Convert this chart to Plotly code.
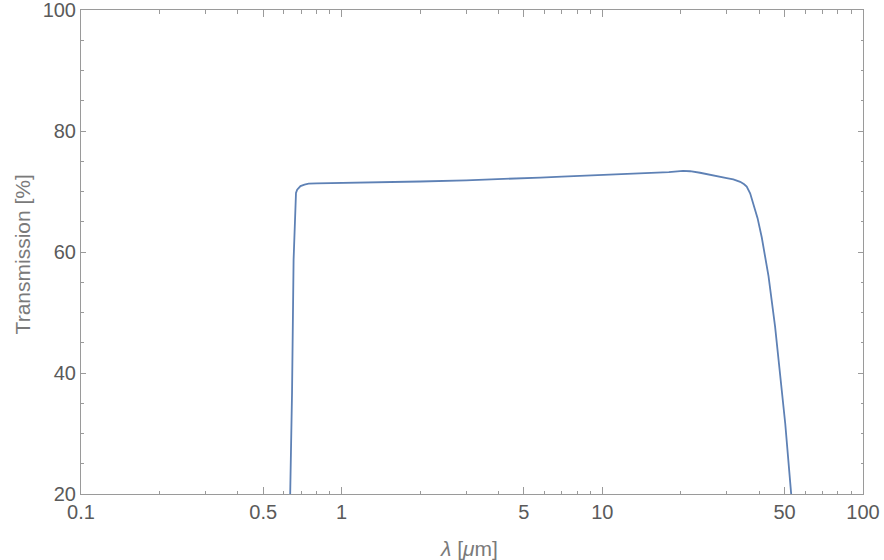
import plotly.graph_objects as go

wavelength_um = [0.634, 0.645, 0.654, 0.662, 0.668, 0.675, 0.685, 0.695, 0.72, 0.747, 0.8, 1.0, 1.288, 1.68,
                 2, 3, 4.06, 5, 5.78, 7, 9.8, 12, 15.3, 18, 20.4, 21.7, 23.7, 26.7, 30, 31.8, 33.8, 35.0,
                 35.8, 36.9, 38.0, 39.4, 40.9, 42.1, 43.4, 46.0, 48.1, 50.3, 53.0, 53.3]
transmission_pct = [19, 36.7, 58.7, 66.5, 69.75, 70.3, 70.7, 70.9, 71.15, 71.3, 71.35, 71.4, 71.45, 71.57,
                    71.65, 71.85, 72.0, 72.15, 72.3, 72.45, 72.7, 72.85, 73.0, 73.2, 73.4, 73.35, 73.1, 72.6,
                    72.2, 72.0, 71.6, 71.2, 70.8, 69.7, 68.0, 65.6, 62.4, 59.3, 56.0, 47.65, 40.0, 31.7, 20.1, 19]

x_tickvals = [0.1, 0.5, 1, 5, 10, 50, 100]
x_ticktext = ["0.1", "0.5", "1", "5", "10", "50", "100"]
x_minor = [0.2, 0.3, 0.4, 0.6, 0.7, 0.8, 0.9, 2, 3, 4, 6, 7, 8, 9, 20, 30, 40, 60, 70, 80, 90]
y_tickvals = [20, 40, 60, 80, 100]
y_minor = [25, 30, 35, 45, 50, 55, 65, 70, 75, 85, 90, 95]

x_title = "<i>λ</i> [<i>μ</i>m]"
y_title = "Transmission [%]"

fig = go.Figure()
fig.add_trace(go.Scatter(x=wavelength_um, y=transmission_pct, mode="lines",
                         line=dict(color="#5E81B5", width=1.8), showlegend=False, hoverinfo="skip"))

axis_common = dict(showline=True, linecolor="#9a9a9a", linewidth=1, mirror="ticks",
                   ticks="inside", tickcolor="#9a9a9a", showgrid=False, zeroline=False,
                   automargin=False, ticklabeloverflow="allow",
                   tickfont=dict(family="Liberation Sans, Arial", size=20, color="#5a5a5a"))

fig.update_xaxes(type="log", range=[-1, 2], tickmode="array", tickvals=x_tickvals, ticktext=x_ticktext,
                 ticklen=7, tickwidth=1,
                 minor=dict(tickmode="array", tickvals=x_minor, ticks="inside", ticklen=3.5,
                            tickcolor="#9a9a9a", showgrid=False),
                 **axis_common)
fig.update_yaxes(range=[20, 100], tickmode="array", tickvals=y_tickvals,
                 ticklen=5, tickwidth=1,
                 minor=dict(tickmode="array", tickvals=y_minor, ticks="inside", ticklen=2.5,
                            tickcolor="#9a9a9a", showgrid=False),
                 **axis_common)

title_font = dict(family="Liberation Sans, Arial", size=21, color="#7a7a7a")
fig.add_annotation(text=x_title, xref="paper", yref="paper", x=0.496, y=-0.1116,
                   xanchor="center", yanchor="middle", showarrow=False, font=title_font)
fig.add_annotation(text=y_title, xref="paper", yref="paper", x=-0.0748, y=0.494,
                   xanchor="center", yanchor="middle", textangle=-90, showarrow=False, font=title_font)

fig.update_layout(width=884, height=560, margin=dict(l=80.5, r=21, t=10, b=66),
                  paper_bgcolor="white", plot_bgcolor="white")

fig.write_html("out.html", config={"displayModeBar": False},
               post_script="document.body.style.margin='0px';")
